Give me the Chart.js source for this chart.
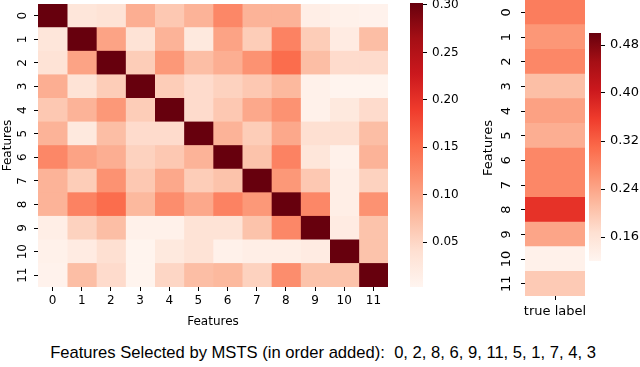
<!DOCTYPE html>
<html>
<head>
<meta charset="utf-8">
<script src="https://cdn.jsdelivr.net/npm/chart.js@4"></script>
<style>
  html, body { margin: 0; padding: 0; background: #fff; }
  body { width: 640px; height: 367px; position: relative; overflow: hidden; }
  canvas { position: absolute; }
  #caption {
    position: absolute; left: 3px; top: 343px; width: 640px;
    text-align: center; white-space: pre;
    font: 16.6px "Liberation Sans", Arial, sans-serif; color: #000;
  }
</style>
</head>
<body>
<canvas id="heat" style="left:0;top:0" width="400" height="333"></canvas>
<canvas id="bar1" style="left:400px;top:0" width="75" height="300"></canvas>
<canvas id="label" style="left:480px;top:0" width="107" height="330"></canvas>
<canvas id="bar2" style="left:580px;top:0" width="60" height="300"></canvas>
<div id="caption">Features Selected by MSTS (in order added):  0, 2, 8, 6, 9, 11, 5, 1, 7, 4, 3</div>
<script>
// feature names (rows and columns of the matrix)
var features = ['0', '1', '2', '3', '4', '5', '6', '7', '8', '9', '10', '11'];

// pairwise values, one row per feature
var row0  = [1.00, 0.030, 0.035, 0.090, 0.065, 0.085, 0.125, 0.085, 0.085, 0.015, 0.010, 0.008];
var row1  = [0.030, 1.00, 0.100, 0.035, 0.085, 0.025, 0.100, 0.060, 0.130, 0.060, 0.020, 0.075];
var row2  = [0.035, 0.100, 1.00, 0.060, 0.110, 0.075, 0.090, 0.115, 0.150, 0.075, 0.045, 0.045];
var row3  = [0.090, 0.035, 0.060, 1.00, 0.060, 0.045, 0.055, 0.065, 0.080, 0.010, 0.005, 0.005];
var row4  = [0.065, 0.085, 0.110, 0.060, 1.00, 0.045, 0.065, 0.095, 0.115, 0.010, 0.025, 0.045];
var row5  = [0.085, 0.025, 0.075, 0.045, 0.045, 1.00, 0.085, 0.060, 0.095, 0.040, 0.040, 0.075];
var row6  = [0.125, 0.100, 0.090, 0.055, 0.065, 0.085, 1.00, 0.070, 0.130, 0.030, 0.010, 0.085];
var row7  = [0.085, 0.060, 0.115, 0.065, 0.095, 0.060, 0.070, 1.00, 0.110, 0.065, 0.015, 0.055];
var row8  = [0.085, 0.130, 0.150, 0.080, 0.120, 0.095, 0.130, 0.110, 1.00, 0.125, 0.015, 0.115];
var row9  = [0.015, 0.055, 0.075, 0.010, 0.010, 0.035, 0.035, 0.070, 0.125, 1.00, 0.020, 0.070];
var row10 = [0.010, 0.020, 0.040, 0.005, 0.025, 0.035, 0.010, 0.015, 0.015, 0.020, 1.00, 0.070];
var row11 = [0.008, 0.075, 0.045, 0.005, 0.050, 0.075, 0.080, 0.055, 0.120, 0.070, 0.070, 1.00];
var matrix = [row0, row1, row2, row3, row4, row5, row6, row7, row8, row9, row10, row11];

// relevance to the true label, one per feature
var trueLabel = [0.287, 0.257, 0.275, 0.210, 0.245, 0.230, 0.275, 0.275, 0.370, 0.240, 0.130, 0.196];

// colour bar ranges and ticks
var cbar1Min = 0.003, cbar1Max = 0.302;
var cbar1Ticks = [0.05, 0.10, 0.15, 0.20, 0.25, 0.30];
var cbar2Min = 0.12, cbar2Max = 0.50;
var cbar2Ticks = [0.16, 0.24, 0.32, 0.40, 0.48];

// matplotlib "Reds"
var REDS = [[255,245,240],[254,224,210],[252,187,161],[252,146,114],[251,106,74],
            [239,59,44],[203,24,29],[165,15,21],[103,0,13]];
function reds(t) {
    t = Math.max(0, Math.min(1, t));
    var p = t * 8, i = Math.min(7, Math.floor(p)), f = p - i;
    var a = REDS[i], b = REDS[i + 1];
    return 'rgb(' + [0, 1, 2].map(function(k) { return Math.round(a[k] + (b[k] - a[k]) * f); }).join(',') + ')';
}
function colorFor(v, lo, hi) { return reds((v - lo) / (hi - lo)); }

Chart.defaults.color = '#000';
Chart.defaults.font.family = '"DejaVu Sans", sans-serif';
Chart.defaults.font.size = 12;
Chart.defaults.animation = false;
Chart.defaults.plugins.legend.display = false;
Chart.defaults.plugins.tooltip.enabled = false;

var tickGrid = { drawOnChartArea: false, drawTicks: true, tickLength: 4, color: '#000', offset: false };
var centers = features.map(function(f, i) { return { value: i + 0.5 }; });

// fix an axis box size and drop the label overhang padding chart.js adds
function fixed(w, h) {
    return function(s) {
        if (w != null) s.width = w;
        if (h != null) s.height = h;
        s.paddingTop = 0; s.paddingBottom = 0; s.paddingLeft = 0; s.paddingRight = 0;
    };
}

// main heatmap: one dataset per column, floating bars across [c, c+1]
var ctxHeat = document.getElementById('heat').getContext('2d');
new Chart(ctxHeat, {
    type: 'bar',
    data: {
        labels: features,
        datasets: features.map(function(f, c) {
            return {
                data: features.map(function() { return [c, c + 1]; }),
                backgroundColor: matrix.map(function(r) { return colorFor(r[c], cbar1Min, cbar1Max); }),
                borderWidth: 0,
                grouped: false,
                barPercentage: 1,
                categoryPercentage: 1
            };
        })
    },
    options: {
        indexAxis: 'y',
        responsive: false,
        layout: { padding: { top: 4, right: 12, left: 0, bottom: 0 } },
        scales: {
            y: {
                type: 'category',
                grid: tickGrid,
                border: { display: false },
                ticks: { minRotation: 90, maxRotation: 90, crossAlign: 'center', padding: 3 },
                title: { display: true, text: 'Features', padding: 1 },
                afterFit: fixed(38, null)
            },
            x: {
                type: 'linear', min: 0, max: 12,
                grid: tickGrid,
                border: { display: false },
                afterBuildTicks: function(s) { s.ticks = centers.slice(); },
                ticks: { padding: 3, callback: function(v) { return features[Math.floor(v)]; } },
                title: { display: true, text: 'Features', padding: 4 },
                afterFit: fixed(null, 46)
            }
        }
    }
});

function gradientBar() {
    return function(ctx) {
        var area = ctx.chart.chartArea;
        if (!area) return '#fff';
        var g = ctx.chart.ctx.createLinearGradient(0, area.bottom, 0, area.top);
        REDS.forEach(function(c, i) { g.addColorStop(i / 8, 'rgb(' + c.join(',') + ')'); });
        return g;
    };
}

function colorbar(id, lo, hi, ticks, pad, axisW, fontSize) {
    new Chart(document.getElementById(id).getContext('2d'), {
        type: 'bar',
        data: {
            labels: [''],
            datasets: [{
                data: [[lo, hi]],
                backgroundColor: gradientBar(),
                borderWidth: 0,
                barPercentage: 1,
                categoryPercentage: 1
            }]
        },
        options: {
            responsive: false,
            layout: { padding: pad },
            scales: {
                x: { display: false },
                y: {
                    position: 'right', min: lo, max: hi,
                    grid: tickGrid,
                    border: { display: false },
                    afterBuildTicks: function(s) { s.ticks = ticks.map(function(v) { return { value: v }; }); },
                    ticks: { padding: 5, font: { size: fontSize }, callback: function(v) { return v.toFixed(2); } },
                    afterFit: fixed(axisW, null)
                }
            }
        }
    });
}

colorbar('bar1', cbar1Min, cbar1Max, cbar1Ticks, { left: 10, top: 3, bottom: 13, right: 0 }, 52, 12);

// true label column
new Chart(document.getElementById('label').getContext('2d'), {
    type: 'bar',
    data: {
        labels: features,
        datasets: [{
            data: features.map(function() { return 1; }),
            backgroundColor: trueLabel.map(function(v) { return colorFor(v, cbar2Min, cbar2Max); }),
            borderWidth: 0,
            barPercentage: 1,
            categoryPercentage: 1
        }]
    },
    options: {
        indexAxis: 'y',
        responsive: false,
        layout: { padding: { top: 0, right: 2, left: 0, bottom: 0 } },
        scales: {
            y: {
                type: 'category',
                grid: tickGrid,
                border: { display: false },
                ticks: { minRotation: 90, maxRotation: 90, crossAlign: 'center', padding: 6, font: { size: 13 } },
                title: { display: true, text: 'Features', padding: 1, font: { size: 13 } },
                afterFit: fixed(45, null)
            },
            x: {
                type: 'linear', min: 0, max: 1,
                grid: tickGrid,
                border: { display: false },
                afterBuildTicks: function(s) { s.ticks = [{ value: 0.5 }]; },
                ticks: { padding: 4, font: { size: 13 }, callback: function() { return 'true label'; } },
                afterFit: fixed(null, 34)
            }
        }
    }
});

colorbar('bar2', cbar2Min, cbar2Max, cbar2Ticks, { left: 9, top: 33, bottom: 39, right: 0 }, 39, 13);
</script>
</body>
</html>
